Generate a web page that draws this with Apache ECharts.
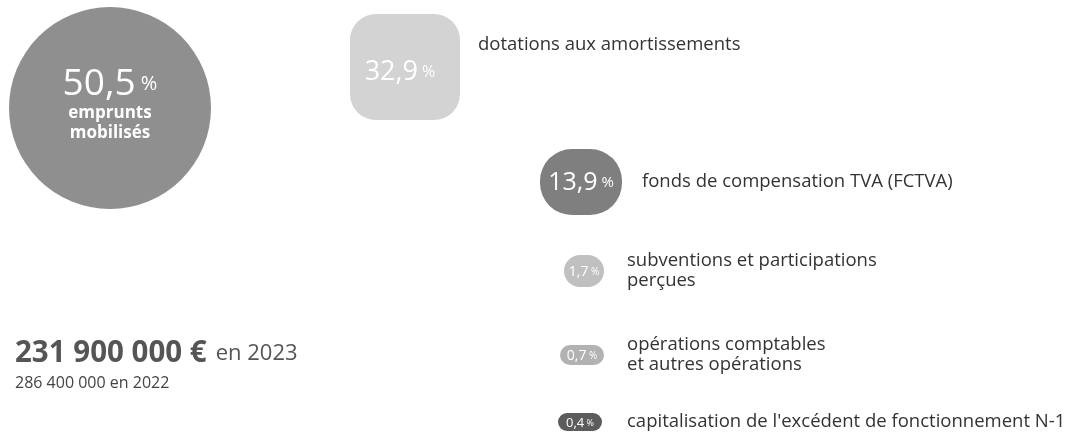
<!DOCTYPE html>
<html lang="fr">
<head>
<meta charset="utf-8">
<title>Recettes d'investissement 2023</title>
<script src="https://cdn.jsdelivr.net/npm/echarts@6/dist/echarts.min.js"></script>
<style>
  html, body { margin: 0; padding: 0; background: #ffffff; }
  #chart { width: 1074px; height: 436px; }
</style>
</head>
<body>
<div id="chart"></div>
<script>
// Répartition des recettes d'investissement (en %)
const categories = [
  'emprunts\nmobilisés',
  'dotations aux amortissements',
  'fonds de compensation TVA (FCTVA)',
  'subventions et participations\nperçues',
  'opérations comptables\net autres opérations',
  "capitalisation de l'excédent de fonctionnement N-1"
];
const shares = [50.5, 32.9, 13.9, 1.7, 0.7, 0.4];

// Montant total des recettes
const totalYears = [2023, 2022];
const totalAmounts = [231900000, 286400000];

// Mise en page des pastilles (repère en pixels de la grille)
const badgeX = [110, 405, 581, 584, 582, 580];
const badgeY = [108, 67, 182, 271, 355, 422];
const badgeW = [202, 110, 82, 40, 44, 44];
const badgeH = [202, 106, 66, 32, 20, 18];
const badgeR = [101, 26, 32, 16, 10, 9];
const badgeColor = ['#8f8f8f', '#d3d3d3', '#7f7f7f', '#c0c0c0', '#b2b2b2', '#5c5c5c'];
const labelX = [null, 478, 642, 627, 627, 627];
// taille des chiffres dans les pastilles : [chiffre, %]
const numSize = [[37, 20], [27, 16], [25, 15], [14, 10], [14, 10], [13, 9]];

const FONT = '"Open Sans", "DejaVu Sans", sans-serif';

const pct = v => v.toFixed(1).replace('.', ',');
const amount = v => String(v).replace(/\B(?=(\d{3})+(?!\d))/g, ' ');

const chart = echarts.init(document.getElementById('chart'), null, { renderer: 'canvas' });

chart.setOption({
  backgroundColor: '#ffffff',
  animation: false,
  grid: { left: 0, right: 0, top: 0, bottom: 0 },
  xAxis: { type: 'value', min: 0, max: 1074, show: false },
  yAxis: { type: 'value', min: 0, max: 436, inverse: true, show: false },
  title: {
    left: 10,
    top: 334,
    text: '{b|' + amount(totalAmounts[0]) + ' €} {r|en ' + totalYears[0] + '}',
    subtext: amount(totalAmounts[1]) + ' en ' + totalYears[1],
    itemGap: 6,
    textStyle: {
      rich: {
        b: { fontFamily: FONT, fontWeight: 'bold', fontSize: 29.5, color: '#555555' },
        r: { fontFamily: FONT, fontWeight: 'normal', fontSize: 22, color: '#555555', padding: [0, 0, 0, 4] }
      }
    },
    subtextStyle: { fontFamily: FONT, fontSize: 16, color: '#444444' }
  },
  series: [{
    type: 'custom',
    coordinateSystem: 'cartesian2d',
    data: shares.map((v, i) => [badgeX[i], badgeY[i], v]),
    renderItem: function (params, api) {
      const i = params.dataIndex;
      const c = api.coord([api.value(0), api.value(1)]);
      const w = badgeW[i], h = badgeH[i];
      const v = api.value(2);
      const children = [{
        type: 'rect',
        shape: { x: c[0] - w / 2, y: c[1] - h / 2, width: w, height: h, r: badgeR[i] },
        style: { fill: badgeColor[i] }
      }];
      const ns = numSize[i];
      if (i === 0) {
        // grande pastille : valeur et libellé à l'intérieur
        children.push({
          type: 'text',
          style: {
            x: c[0], y: c[1] - 4,
            align: 'center', verticalAlign: 'middle',
            text: '{n|' + pct(v) + '}{p| %}\n{l|emprunts}\n{l|mobilisés}',
            rich: {
              n: { fontFamily: FONT, fontSize: ns[0], fill: '#ffffff', lineHeight: 38 },
              p: { fontFamily: FONT, fontSize: ns[1], fill: '#ffffff', lineHeight: 38 },
              l: { fontFamily: FONT, fontWeight: 'bold', fontSize: 17, fill: '#ffffff', lineHeight: 20 }
            }
          }
        });
      } else {
        children.push({
          type: 'text',
          style: {
            x: c[0] - (i === 1 ? 5 : 0), y: c[1] + (i === 1 ? 5 : 1),
            align: 'center', verticalAlign: 'middle',
            text: '{n|' + pct(v) + '}{p| %}',
            rich: {
              n: { fontFamily: FONT, fontSize: ns[0], fill: '#ffffff' },
              p: { fontFamily: FONT, fontSize: ns[1], fill: '#ffffff' }
            }
          }
        });
        children.push({
          type: 'text',
          style: {
            x: labelX[i], y: i === 1 ? c[1] - 22 : c[1],
            align: 'left', verticalAlign: 'middle',
            text: categories[i],
            fontFamily: FONT, fontSize: 18.5, lineHeight: 20,
            fill: '#333333'
          }
        });
      }
      return { type: 'group', children: children };
    }
  }]
});
</script>
</body>
</html>
